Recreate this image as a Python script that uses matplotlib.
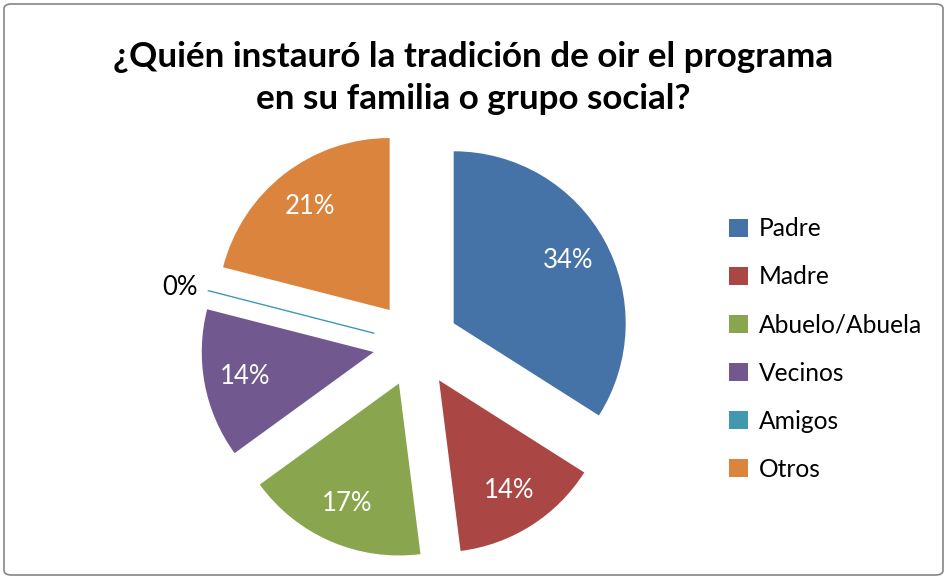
import matplotlib
matplotlib.use("Agg")
import matplotlib.pyplot as plt
from matplotlib.patches import FancyBboxPatch, Patch
import numpy as np

plt.rcParams['font.family'] = ['Lato', 'DejaVu Sans']

title = "¿Quién instauró la tradición de oir el programa\nen su familia o grupo social?"
categories = ["Padre", "Madre", "Abuelo/Abuela", "Vecinos", "Amigos", "Otros"]
values = [34, 14, 17, 14, 0, 21]
colors = ["#4572A7", "#AA4643", "#89A54E", "#71588F", "#4198AF", "#DB843D"]

W, H = 947, 579
fig = plt.figure(figsize=(W / 100, H / 100), dpi=100)

# chart border
border = FancyBboxPatch((4 / W, 4 / H), (W - 8) / W, (H - 8) / H,
                        boxstyle="round,pad=0,rounding_size=0.008",
                        transform=fig.transFigure, fill=False,
                        edgecolor="#868686", linewidth=1.2)
fig.patches.append(border)

fig.text(0.5, 1 - 78 / H, title, ha="center", va="center",
         fontsize=25.2, fontweight="bold", linespacing=1.42, color="#000000")

# axes: pie centre at (416,344) px, radius 172 px
cx, cy, R = 416, 344, 172
L = 1.6
ax = fig.add_axes([(cx - L * R) / W, (H - cy - L * R) / H, 2 * L * R / W, 2 * L * R / H])

wedges, texts, autotexts = ax.pie(
    values, colors=colors, startangle=90, counterclock=False,
    explode=[0.25] * len(values), radius=1.0,
    autopct=lambda p: f"{p:.0f}%", pctdistance=0.76,
    wedgeprops=dict(linewidth=0), textprops=dict(fontsize=18.5, color="white"))
ax.set_aspect("auto")
ax.set_xlim(-L, L)
ax.set_ylim(-L, L)
ax.axis("off")

for w, t, v, c in zip(wedges, autotexts, values, colors):
    t.set_clip_on(False)
    w.set_clip_on(False)
    if v == 0:
        w.set_edgecolor(c)
        w.set_linewidth(1.0)
        ang = np.deg2rad((w.theta1 + w.theta2) / 2)
        ox, oy = w.center
        t.set_position((ox + 1.06 * np.cos(ang), oy + 1.06 * np.sin(ang)))
        t.set_color("black")
        t.set_ha("right")
        t.set_va("center")

handles = [Patch(facecolor=c, edgecolor="none") for c in colors]
leg = fig.legend(handles, categories, loc="center left",
                 bbox_to_anchor=(717 / W, 1 - 349 / H), frameon=False,
                 fontsize=17.7, handlelength=0.75, handleheight=0.75,
                 handletextpad=0.45, labelspacing=1.02, borderpad=0)

fig.savefig("out.png", dpi=100)
